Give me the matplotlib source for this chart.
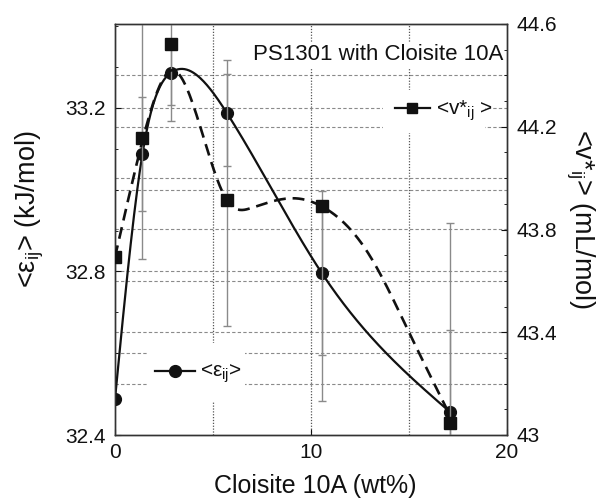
import matplotlib
matplotlib.use("Agg")
import matplotlib.pyplot as plt
import matplotlib.transforms as mtransforms
from matplotlib.patches import Rectangle
from matplotlib.ticker import MultipleLocator, FixedLocator, FuncFormatter
import numpy as np

plt.rcParams["font.family"] = "Liberation Sans"
plt.rcParams["mathtext.fontset"] = "custom"
plt.rcParams["mathtext.rm"] = "Liberation Sans"
plt.rcParams["mathtext.it"] = "Liberation Sans:italic"

# --- данные ---
clay_wt = [0.0, 1.4, 2.85, 5.7, 10.55, 17.1]
eps_ij = [32.488, 33.087, 33.286, 33.188, 32.796, 32.456]          # kJ/mol
eps_err = [0.0, 0.14, 0.08, 0.13, 0.20, 0.20]
v_ij = [43.693, 44.156, 44.522, 43.915, 43.891, 43.047]            # mL/mol
v_err_lo = [0.0, 0.47, 0.30, 0.49, 0.76, 0.78]
v_err_hi = [0.0, 0.47, 0.30, 0.49, 0.0, 0.78]

# опорные точки сглаженной пунктирной кривой
v_fit_x = [0.0, 0.9, 1.45, 2.95, 4.35, 5.7, 7.0, 9.4, 10.55, 12.9, 15.0, 17.0]
v_fit_y = [43.693, 43.99, 44.16, 44.42, 44.20, 43.915, 43.885, 43.92, 43.89,
           43.71, 43.40, 43.09]

BLACK, GRID = "#111111", "#8a8a8a"


def spline(xk, yk, n=300):
    """Натуральный кубический сплайн — просто чтобы нарисовать гладкую линию."""
    xk, yk = np.asarray(xk, float), np.asarray(yk, float)
    m = len(xk)
    h = np.diff(xk)
    A = np.zeros((m, m)); r = np.zeros(m)
    A[0, 0] = A[-1, -1] = 1
    for i in range(1, m - 1):
        A[i, i - 1], A[i, i], A[i, i + 1] = h[i - 1], 2 * (h[i - 1] + h[i]), h[i]
        r[i] = 6 * ((yk[i + 1] - yk[i]) / h[i] - (yk[i] - yk[i - 1]) / h[i - 1])
    M = np.linalg.solve(A, r)
    xs = np.linspace(xk[0], xk[-1], n)
    k = np.clip(np.searchsorted(xk, xs) - 1, 0, m - 2)
    t0, t1, hk = xs - xk[k], xk[k + 1] - xs, h[k]
    ys = (M[k] * t1 ** 3 + M[k + 1] * t0 ** 3) / (6 * hk) \
        + (yk[k] / hk - M[k] * hk / 6) * t1 + (yk[k + 1] / hk - M[k + 1] * hk / 6) * t0
    return xs, ys


fig = plt.figure(figsize=(6.06, 5.04), dpi=100)
fig.patch.set_facecolor("white")
ax = fig.add_axes([115 / 606, 1 - 435 / 504, 392 / 606, 411 / 504])
ax2 = ax.twinx()

ax.set_xlim(0, 20)
ax.set_ylim(32.4, 33.405)
ax2.set_ylim(43.0, 44.6)

# ── сетка: всё рисуем в ax (нижний слой) ──
for yv in np.arange(32.6, 33.3, 0.2):
    ax.axhline(yv, color=GRID, lw=0.8, ls=(0, (3, 2)), zorder=0.5)
blend = mtransforms.blended_transform_factory(ax.transAxes, ax2.transData)
for yv in np.arange(43.2, 44.5, 0.2):
    ax.plot([0, 1], [yv, yv], transform=blend, color=GRID, lw=0.8, ls=(0, (3, 2)), zorder=0.5)
for xv in (5, 10, 15):
    ax.axvline(xv, color="#555555", lw=0.9, ls=(0, (1, 1.3)), zorder=0.5)

# белые подложки под подписями — перебивают линии сетки
ax.add_patch(Rectangle((0.082, 0.080), 0.250, 0.144, transform=ax.transAxes,
                       facecolor="white", edgecolor="none", zorder=1))
ax.add_patch(Rectangle((0.684, 0.735), 0.260, 0.104, transform=ax.transAxes,
                       facecolor="white", edgecolor="none", zorder=1))

# ── <eps_ij>: левая ось ──
ax.errorbar(clay_wt, eps_ij, yerr=eps_err, fmt="none", ecolor=GRID, elinewidth=1.0,
            capsize=3, capthick=1.0, zorder=2)
sx, sy = spline(clay_wt, eps_ij)
ax.plot(sx, sy, color=BLACK, lw=1.6, zorder=3)
ax.plot(clay_wt, eps_ij, "o", ms=8.5, color=BLACK, zorder=4)

# ── <v*_ij>: правая ось ──
ax2.errorbar(clay_wt, v_ij, yerr=[v_err_lo, v_err_hi], fmt="none", ecolor=GRID,
             elinewidth=1.0, capsize=3, capthick=1.0, zorder=2)
dx, dy = spline(v_fit_x, v_fit_y)
ax2.plot(dx, dy, color=BLACK, lw=1.9, dashes=(4.5, 2.6), zorder=3)
ax2.plot(clay_wt, v_ij, "s", ms=8, color=BLACK, zorder=4)

# ── легенды вручную ──
ax.plot([0.714, 0.804], [0.796, 0.796], transform=ax.transAxes, color=BLACK, lw=1.6, zorder=3)
ax.plot([0.758], [0.796], "s", ms=7.5, color=BLACK, transform=ax.transAxes, zorder=4)
ax.text(0.818, 0.779, r"<v*$_\mathregular{ij}$ >", transform=ax.transAxes,
        fontsize=15, color=BLACK, va="baseline", zorder=4)
ax.plot([0.102, 0.204], [0.156, 0.156], transform=ax.transAxes, color=BLACK, lw=1.6, zorder=3)
ax.plot([0.153], [0.156], "o", ms=8.5, color=BLACK, transform=ax.transAxes, zorder=4)
ax.text(0.217, 0.141, r"<ε$_\mathregular{ij}$>", transform=ax.transAxes,
        fontsize=15, color=BLACK, va="baseline", zorder=4)

ax.text(0.990, 0.912, "PS1301 with Cloisite 10A", transform=ax.transAxes, ha="right",
        va="baseline", fontsize=16, color=BLACK, zorder=4,
        bbox=dict(facecolor="white", edgecolor="none", pad=2))

# ── оси и подписи ──
ax.xaxis.set_major_locator(FixedLocator([0, 10, 20]))
ax.yaxis.set_major_locator(FixedLocator([32.4, 32.8, 33.2]))
ax.yaxis.set_minor_locator(MultipleLocator(0.1))
ax2.yaxis.set_major_locator(FixedLocator([43.0, 43.4, 43.8, 44.2, 44.6]))
ax2.yaxis.set_minor_locator(MultipleLocator(0.1))
ax2.yaxis.set_major_formatter(FuncFormatter(lambda v, _: f"{v:g}"))
for a in (ax, ax2):
    a.tick_params(direction="in", length=4, width=0.8, labelsize=15, pad=7, colors=BLACK)
    a.tick_params(which="minor", direction="in", length=2.5, width=0.6)
    for s in a.spines.values():
        s.set_color("#333333"); s.set_linewidth(1.0)
ax.tick_params(axis="x", pad=6)

fig.text(0.52, 0.035, "Cloisite 10A (wt%)", ha="center", va="center", fontsize=18, color=BLACK)
fig.text(0.050, 0.585, r"<ε$_\mathregular{ij}$> (kJ/mol)", rotation=90, ha="center",
         va="center", fontsize=19.5, color=BLACK)
fig.text(0.958, 0.565, r"<v*$_\mathregular{ij}$> (mL/mol)", rotation=-90, ha="center",
         va="center", fontsize=19.5, color=BLACK)

fig.savefig("out.png", dpi=100, facecolor="white")
